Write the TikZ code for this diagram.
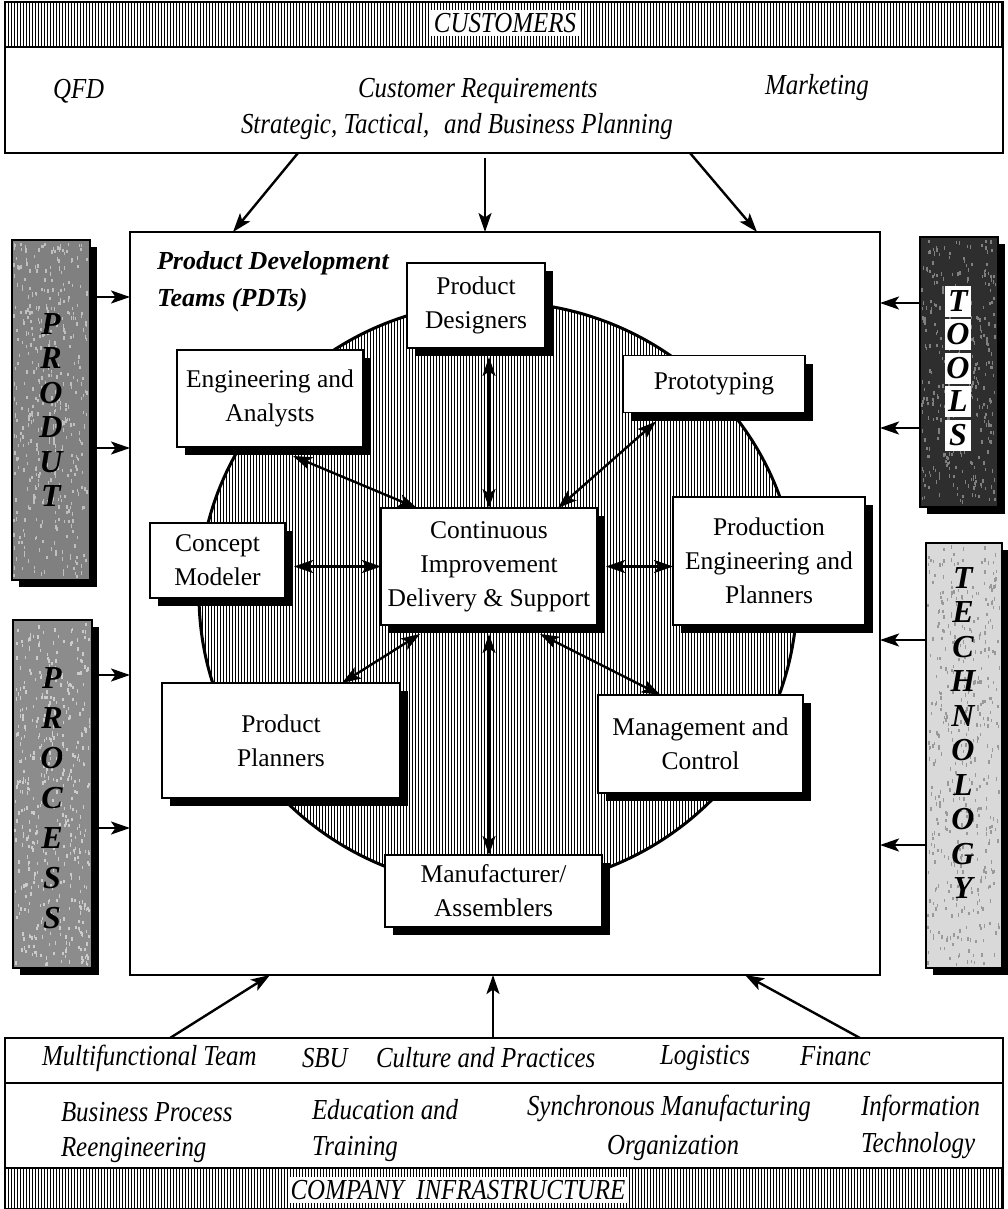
\documentclass[tikz,border=0pt]{standalone}
\usepackage{fontspec}
\usepackage{graphicx}
\setmainfont{Liberation Serif}
\usetikzlibrary{arrows.meta,shadows,calc}
% condensed italic used for the outer labels
\newcommand\narrowtext[1]{\scalebox{0.86}[1]{#1}}
% random specks over a rectangular area
\newcommand\speckle[6]{%
  \foreach \n in {1,...,#5} {%
    \pgfmathsetmacro\rx{#1+(#3-#1-2)*rnd}%
    \pgfmathsetmacro\ry{#2+(#4-#2-4)*rnd}%
    \fill[#6] (\rx,\ry) rectangle ++(1.5,3.4);
  }}
\begin{document}
\begin{tikzpicture}[x=1pt,y=-1pt,
  every node/.style={inner sep=0pt, outer sep=0pt},
  outer/.style={font=\fontsize{29}{34}\selectfont\itshape, anchor=west},
  banner/.style={font=\fontsize{29}{34}\selectfont\itshape, fill=white, inner xsep=3pt, inner ysep=3pt},
  unit/.style={draw, line width=1.6pt, fill=white, align=center,
     font=\fontsize{25.5}{34}\selectfont,
     drop shadow={shadow xshift=8pt, shadow yshift=-8pt, fill=black, opacity=1}},
  panel/.style={draw, line width=1.2pt,
     drop shadow={shadow xshift=7pt, shadow yshift=-7pt, fill=black, opacity=1}},
  pletter/.style={font=\fontsize{32}{32}\selectfont\bfseries\itshape},
  boxletter/.style={pletter, fill=white, minimum width=26pt, minimum height=31pt},
  bigtip/.tip={Stealth[length=19pt,width=13pt,inset=4.5pt]},
  link/.style={line width=2.4pt, bigtip-bigtip},
  feed/.style={line width=2.4pt, -bigtip},
  hatch/.style={line width=0.85pt},
  dischatch/.style={line width=1.0pt},
]
\useasboundingbox (0,0) rectangle (1008,1209);
\fill[white] (0,0) rectangle (1008,1209);
\pgfmathsetseed{11}

% ---------- customers band ----------
\begin{scope}
  \clip (5,2) rectangle (1003,47);
  \foreach \k in {0,...,333} \draw[hatch] ({5+3*\k},2) -- ({5+3*\k},47);
\end{scope}
\draw[line width=1.2pt] (5,2) rectangle (1003,47);
\node[banner] (customers) at (505,23) {\narrowtext{CUSTOMERS}};

\node[draw, line width=1.6pt, minimum width=998pt, minimum height=106pt] (req) at (504,100) {};
\node[outer] (qfd) at (53,91) {\narrowtext{QFD}};
\node[outer] (custreq) at (358,91) {\narrowtext{Customer Requirements}};
\node[outer] (marketing) at (765,88) {\narrowtext{Marketing}};
\node[outer] (planning) at (241,127) {\narrowtext{Strategic, Tactical,\hspace{0.35em} and Business Planning}};

% ---------- product development teams ----------
\node[draw, line width=2.6pt, minimum width=750pt, minimum height=743pt] (pdt) at (505,603.5) {};
\node[anchor=north west, align=left, font=\fontsize{26}{37}\selectfont\bfseries\itshape] (title) at (157,251) {Product Development\\Teams (PDTs)};

\begin{scope}
  \clip (498,595) ellipse [x radius=299, y radius=293];
  \foreach \k in {0,...,200} \draw[dischatch] ({199+3*\k},300) -- ({199+3*\k},890);
\end{scope}
\draw[line width=3pt] (498,595) ellipse [x radius=299, y radius=293];

\node[unit, minimum width=138pt, minimum height=85pt] (pd) at (476,305.5) {Product\\Designers};
\node[unit, minimum width=186pt, minimum height=97pt] (eng) at (270,398.5) {Engineering and\\Analysts};
\node[unit, minimum width=182pt, minimum height=57pt] (proto) at (714,384) {Prototyping};
\node[unit, minimum width=135pt, minimum height=75pt] (concept) at (217.5,560.5) {Concept\\Modeler};
\node[unit, minimum width=216pt, minimum height=117pt] (cont) at (489,566.5) {Continuous\\Improvement\\Delivery \& Support};
\node[unit, minimum width=192pt, minimum height=128pt] (prodeng) at (769,561) {Production\\Engineering and\\Planners};
\node[unit, minimum width=238pt, minimum height=115pt] (plan) at (281,740.5) {Product\\Planners};
\node[unit, minimum width=205pt, minimum height=98pt] (mgmt) at (700.5,744) {Management and\\Control};
\node[unit, minimum width=217pt, minimum height=72pt] (manu) at (493.5,891) {Manufacturer/\\Assemblers};

\draw[link] ($(pd.south -| cont.north)+(0,9)$) -- (cont.north);
\draw[link] ($(eng.south)+(23,9)$) -- ($(cont.north west)+(36,0)$);
\draw[link] ($(proto.south)+(-58,9)$) -- ($(cont.north east)+(-39,0)$);
\draw[link] ($(concept.east |- cont.west)+(9,0)$) -- (cont.west);
\draw[link] ($(cont.east)+(9,0)$) -- (prodeng.west |- cont.east);
\draw[link] ($(plan.north)+(61,0)$) -- ($(cont.south west)+(39,9)$);
\draw[link] ($(cont.south)+(0,9)$) -- (manu.north -| cont.south);
\draw[link] ($(cont.south)+(51,9)$) -- ($(mgmt.north)+(-40,0)$);

% ---------- inputs from the customers ----------
\draw[feed] ($(req.south)+(-206,0)$) -- ($(pdt.north)+(-272,0)$);
\draw[feed] ($(req.south)+(-19,5)$) -- ($(pdt.north)+(-20,0)$);
\draw[feed] ($(req.south)+(186,0)$) -- ($(pdt.north)+(252,0)$);

% ---------- side panels ----------
\node[panel, fill=black!50, minimum width=78pt, minimum height=340pt] (produt) at (51,410) {};
\speckle{13}{242}{89}{579}{450}{black!25}
\foreach \c [count=\i from 0] in {P,R,O,D,U,T}
  \node[pletter] (produt-\i) at (51,{324+34.5*\i}) {\c};
\node[panel, fill=black!45, minimum width=79pt, minimum height=348pt] (process) at (52.5,794) {};
\speckle{14}{622}{91}{967}{480}{black!20}
\foreach \c [count=\i from 0] in {P,R,O,C,E,S,S}
  \node[pletter] (process-\i) at (52,{678+40*\i}) {\c};
\node[panel, fill=black!82, minimum width=78pt, minimum height=270pt] (tools) at (959,372) {};
\speckle{921}{239}{997}{506}{350}{black!50}
\foreach \c [count=\i from 0] in {T,O,O,L,S}
  \node[boxletter] (tools-\i) at (958,{301+33.5*\i}) {\c};
\node[panel, fill=black!15, minimum width=76pt, minimum height=425pt] (techno) at (964,755.5) {};
\speckle{927}{545}{1001}{967}{450}{black!40}
\foreach \c [count=\i from 0] in {T,E,C,H,N,O,L,O,G,Y}
  \node[pletter] (techno-\i) at (963,{578+34.5*\i}) {\c};

\draw[feed] ($(produt.east |- 0,297)+(7,0)$) -- (pdt.west |- 0,297);
\draw[feed] ($(produt.east |- 0,448)+(7,0)$) -- (pdt.west |- 0,448);
\draw[feed] ($(process.east |- 0,675)+(7,0)$) -- (pdt.west |- 0,675);
\draw[feed] ($(process.east |- 0,828)+(7,0)$) -- (pdt.west |- 0,828);
\draw[feed] (tools.west |- 0,303) -- (pdt.east |- 0,303);
\draw[feed] (tools.west |- 0,428) -- (pdt.east |- 0,428);
\draw[feed] (techno.west |- 0,640) -- (pdt.east |- 0,640);
\draw[feed] (techno.west |- 0,845) -- (pdt.east |- 0,845);

% ---------- company infrastructure ----------
\node[draw, line width=1.6pt, minimum width=998pt, minimum height=171pt] (infra) at (504,1123.5) {};
\draw[line width=1.6pt] (infra.west |- 0,1083) -- (infra.east |- 0,1083);
\begin{scope}
  \clip (5,1168) rectangle (1003,1209);
  \foreach \k in {0,...,333} \draw[hatch] ({5+3*\k},1168) -- ({5+3*\k},1209);
\end{scope}
\draw[line width=1.2pt] (5,1168) -- (1003,1168);
\node[banner] (company) at (458,1190) {\narrowtext{COMPANY\hspace{0.5em}INFRASTRUCTURE}};

\node[outer] (multi) at (42,1058) {\narrowtext{Multifunctional Team}};
\node[outer] (sbu) at (302,1058) {\narrowtext{SBU}};
\node[outer] (culture) at (376,1058) {\narrowtext{Culture and Practices}};
\node[outer] (logistics) at (660,1058) {\narrowtext{Logistics}};
\node[outer] (financ) at (800,1056) {\narrowtext{Financ}};
\node[outer] (bpr1) at (61,1112) {\narrowtext{Business Process}};
\node[outer] (bpr2) at (61,1150) {\narrowtext{Reengineering}};
\node[outer] (edu1) at (312,1110) {\narrowtext{Education and}};
\node[outer] (edu2) at (312,1149) {\narrowtext{Training}};
\node[outer] (sync1) at (527,1108) {\narrowtext{Synchronous Manufacturing}};
\node[outer] (sync2) at (607,1148) {\narrowtext{Organization}};
\node[outer] (info1) at (861,1108) {\narrowtext{Information}};
\node[outer] (info2) at (861,1146) {\narrowtext{Technology}};

\draw[feed] ($(infra.north)+(-334,0)$) -- ($(pdt.south)+(-235,0)$);
\draw[feed] ($(infra.north)+(-11,0)$) -- ($(pdt.south)+(-12,0)$);
\draw[feed] ($(infra.north)+(356,0)$) -- ($(pdt.south)+(240,0)$);
\end{tikzpicture}
\end{document}
